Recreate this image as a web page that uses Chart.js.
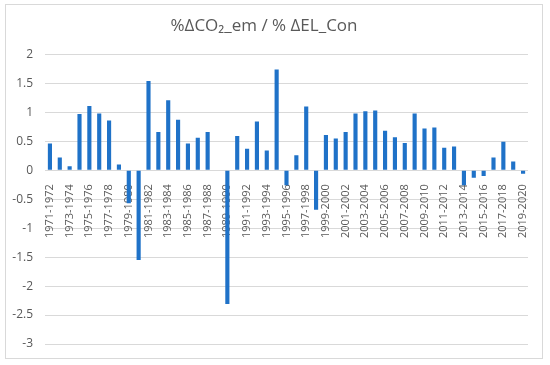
<!DOCTYPE html>
<html>
<head>
<meta charset="utf-8">
<script src="https://cdn.jsdelivr.net/npm/chart.js@4"></script>
<style>
  body { margin: 0; background: #fff; }
  #wrap { position: relative; width: 550px; height: 365px; }
  #frame { position: absolute; left: 5px; top: 4px; width: 536px; height: 353px; border: 1px solid #d9d9d9; pointer-events: none; }
</style>
</head>
<body>
<div id="wrap">
  <canvas id="grafico" width="550" height="365"></canvas>
  <div id="frame"></div>
</div>
<script>
// --- Datos ---
const periodos = [];
for (let a = 1971; a <= 2019; a++) periodos.push(a + '-' + (a + 1));

const valores = [
    0.46, 0.22, 0.07, 0.97, 1.11, 0.98, 0.86, 0.10, -0.57, -1.55,
    1.54, 0.66, 1.21, 0.87, 0.46, 0.56, 0.66, 0.01, -2.31, 0.59,
    0.37, 0.84, 0.34, 1.74, -0.26, 0.26, 1.10, -0.68, 0.61, 0.55,
    0.66, 0.98, 1.02, 1.03, 0.68, 0.57, 0.47, 0.98, 0.72, 0.74,
    0.39, 0.41, -0.26, -0.13, -0.10, 0.22, 0.49, 0.15, -0.06
];

const yMin = -3, yMax = 2, yPaso = 0.5;

const gris = '#595959';
const fuente = "'Open Sans', 'Liberation Sans', sans-serif";

// --- Gráfica ---
const ctx = document.getElementById('grafico').getContext('2d');
new Chart(ctx, {
    type: 'bar',
    data: {
        labels: periodos,
        datasets: [{
            data: valores,
            backgroundColor: '#1f72c8',
            categoryPercentage: 1,
            barPercentage: 0.42
        }]
    },
    options: {
        responsive: false,
        animation: false,
        layout: { padding: { top: 4, right: 22, bottom: 21, left: 0 } },
        plugins: {
            legend: { display: false },
            tooltip: { enabled: false },
            title: {
                display: true,
                text: '%ΔCO₂_em / % ΔEL_Con',
                color: gris,
                font: { family: fuente, size: 17, weight: 'normal' },
                padding: { top: 12, bottom: 18 }
            }
        },
        scales: {
            x: {
                position: { y: 0 },
                grid: { display: false },
                border: { display: false },
                ticks: {
                    autoSkip: false,
                    minRotation: 90,
                    maxRotation: 90,
                    padding: 6,
                    color: gris,
                    font: { family: fuente, size: 11 },
                    callback: (v, i) => i % 2 === 0 ? periodos[i] : ''
                },
                afterFit: s => { s.height = 0; }
            },
            y: {
                min: yMin,
                max: yMax,
                grid: { color: '#d9d9d9', drawTicks: false },
                border: { display: false },
                ticks: {
                    stepSize: yPaso,
                    padding: 12,
                    color: gris,
                    font: { family: fuente, size: 12 },
                    callback: v => String(v)
                },
                afterFit: s => { s.width = 45; }
            }
        }
    }
});
</script>
</body>
</html>
